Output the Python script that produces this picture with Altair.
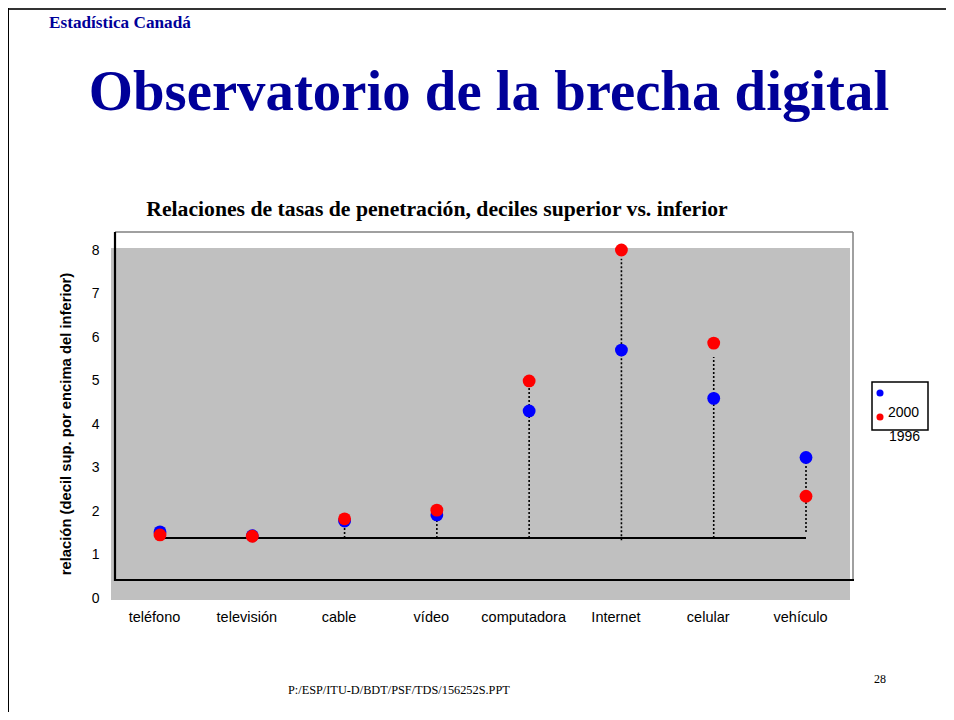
import altair as alt
import pandas as pd

# ---- data ----
categorias = ["teléfono", "televisión", "cable", "vídeo", "computadora", "Internet", "celular", "vehículo"]
serie_azul = [1.52, 1.43, 1.77, 1.91, 4.30, 5.70, 4.59, 3.23]   # legend: 2000
serie_roja = [1.45, 1.42, 1.82, 2.02, 4.99, 8.00, 5.86, 2.34]   # legend: 1996
nombres_series = ["2000", "1996"]
y_ticks = [0, 1, 2, 3, 4, 5, 6, 7, 8]
linea_base = 1.38
tallo_cats = ["cable", "vídeo", "computadora", "Internet", "celular", "vehículo"]
tallo_bajo = [1.38, 1.38, 1.38, 1.33, 1.38, 1.52]
tallo_alto = [1.77, 1.91, 4.90, 7.80, 5.54, 3.20]

texto_org = "Estadística Canadá"
texto_titulo = "Observatorio de la brecha digital"
texto_subtitulo = "Relaciones de tasas de penetración, deciles superior vs. inferior"
texto_eje_y = "relación (decil sup. por encima del inferior)"
texto_pie = "P:/ESP/ITU-D/BDT/PSF/TDS/156252S.PPT"
texto_pagina = "28"

SERIF = "Liberation Serif"
SANS = "Liberation Sans"
NAVY = "#000099"

W, H = 739, 348

df_pts = pd.DataFrame(
    {"cat": categorias * 2,
     "valor": serie_azul + serie_roja,
     "serie": [nombres_series[0]] * len(categorias) + [nombres_series[1]] * len(categorias)}
)
df_azul = df_pts[df_pts.serie == nombres_series[0]]
df_roja = df_pts[df_pts.serie == nombres_series[1]]
df_tallos = pd.DataFrame({"cat": tallo_cats, "bajo": tallo_bajo, "alto": tallo_alto})
df_base = pd.DataFrame({"cat": [categorias[0]], "cat2": [categorias[-1]], "v": [linea_base]})

x_axis = alt.Axis(title=None, domain=False, ticks=False, tickSize=0, labelPadding=12,
                  labelFont=SANS, labelFontSize=14.5, labelColor="black", labelAngle=0,
                  labelOffset=-6, grid=False)
y_axis = alt.Axis(title=None, domain=False, ticks=False, tickSize=0, labelPadding=12,
                  labelFont=SANS, labelFontSize=14, labelColor="black", values=y_ticks,
                  grid=False)
x_scale = alt.Scale(type="point", domain=categorias, range=[49, 695], padding=0)
y_scale = alt.Scale(domain=[0, 8], nice=False, zero=False)

one = alt.Data(values=[{}])

def rect(x, x2, y, y2, **kw):
    return alt.Chart(one).mark_rect(**kw).encode(
        x=alt.value(x), x2=alt.value(x2), y=alt.value(y), y2=alt.value(y2))

def rule(x, x2, y, y2, **kw):
    return alt.Chart(one).mark_rule(**kw).encode(
        x=alt.value(x), x2=alt.value(x2), y=alt.value(y), y2=alt.value(y2))

def text(t, x, y, **kw):
    return alt.Chart(one).mark_text(**kw).encode(
        x=alt.value(x), y=alt.value(y), text=alt.value(t))

# background of plot
fondo = rect(0, W, -2, 350, color="#C0C0C0")
# frame
marco_sup = rule(4, 742, -18, -18, color="#808080", strokeWidth=1.5)
marco_der = rule(742, 742, -18, 330, color="#808080", strokeWidth=1.5)
marco_izq = rule(4, 4, -18, 331, color="black", strokeWidth=2.2)
marco_inf = rule(4, 743, 330, 330, color="black", strokeWidth=2.2)
# slide border (top and left)
borde_sup = rule(-104, 843, -241, -241, color="#333333", strokeWidth=2)
borde_izq = rule(-103, -103, -242, 470, color="black", strokeWidth=2)

base = alt.Chart(df_base).mark_rule(color="black", strokeWidth=2).encode(
    x=alt.X("cat:N", sort=categorias, scale=x_scale, axis=x_axis),
    x2="cat2:N",
    y=alt.Y("v:Q", scale=y_scale, axis=y_axis),
)

tallos = alt.Chart(df_tallos).mark_rule(color="black", strokeWidth=1.6, strokeDash=[2, 2]).encode(
    x=alt.X("cat:N", sort=categorias, scale=x_scale, axis=x_axis),
    y=alt.Y("bajo:Q", scale=y_scale, axis=y_axis),
    y2="alto:Q",
)

puntos_azul = alt.Chart(df_azul).mark_circle(size=165, opacity=1, color="#0000FF").encode(
    x=alt.X("cat:N", sort=categorias, scale=x_scale, axis=x_axis),
    y=alt.Y("valor:Q", scale=y_scale, axis=y_axis),
)
puntos_rojo = alt.Chart(df_roja).mark_circle(size=165, opacity=1, color="#FF0000").encode(
    x=alt.X("cat:N", sort=categorias, scale=x_scale, axis=x_axis),
    y=alt.Y("valor:Q", scale=y_scale, axis=y_axis),
)

# legend (as in the slide)
ley_caja = rect(761, 817, 132, 180, fill="white", stroke="black", strokeWidth=1.5)
ley_azul = alt.Chart(one).mark_circle(size=50, opacity=1, color="#0000FF").encode(
    x=alt.value(769), y=alt.value(143))
ley_rojo = alt.Chart(one).mark_circle(size=50, opacity=1, color="#FF0000").encode(
    x=alt.value(769), y=alt.value(167))
ley_t1 = text(nombres_series[0], 777, 167, align="left", baseline="alphabetic",
              font=SANS, fontSize=14, color="black")
ley_t2 = text(nombres_series[1], 778, 191, align="left", baseline="alphabetic",
              font=SANS, fontSize=14, color="black")

t_org = text(texto_org, -62, -222, align="left", baseline="alphabetic", font=SERIF,
             fontSize=17.2, fontWeight="bold", color=NAVY)
t_tit = text(texto_titulo, 378, -140, align="center", baseline="alphabetic", font=SERIF,
             fontSize=56.8, fontWeight="bold", color=NAVY)
t_sub = text(texto_subtitulo, 326, -34, align="center", baseline="alphabetic", font=SERIF,
             fontSize=21.7, fontWeight="bold", color="black")
t_ejey = text(texto_eje_y, -44, 174, align="center", baseline="middle", angle=270, font=SANS,
              fontSize=14.8, fontWeight="bold", color="black")
t_pie = text(texto_pie, 177, 444, align="left", baseline="alphabetic", font=SERIF,
             fontSize=12.3, color="black")
t_pag = text(texto_pagina, 769, 433, align="center", baseline="alphabetic", font=SERIF,
             fontSize=12, color="black")

chart = alt.layer(
    fondo, marco_sup, marco_der, marco_izq, marco_inf, borde_sup, borde_izq,
    base, tallos, puntos_azul, puntos_rojo,
    ley_caja, ley_azul, ley_rojo, ley_t1, ley_t2,
    t_org, t_tit, t_sub, t_ejey, t_pie, t_pag,
).properties(
    width=W, height=H,
    padding={"left": 103, "top": 242, "right": 96, "bottom": 114},
    autosize=alt.AutoSizeParams(type="none"),
    background="white",
).configure_view(stroke=None)

chart.save("out.html", embed_options={"renderer": "svg", "actions": False})
